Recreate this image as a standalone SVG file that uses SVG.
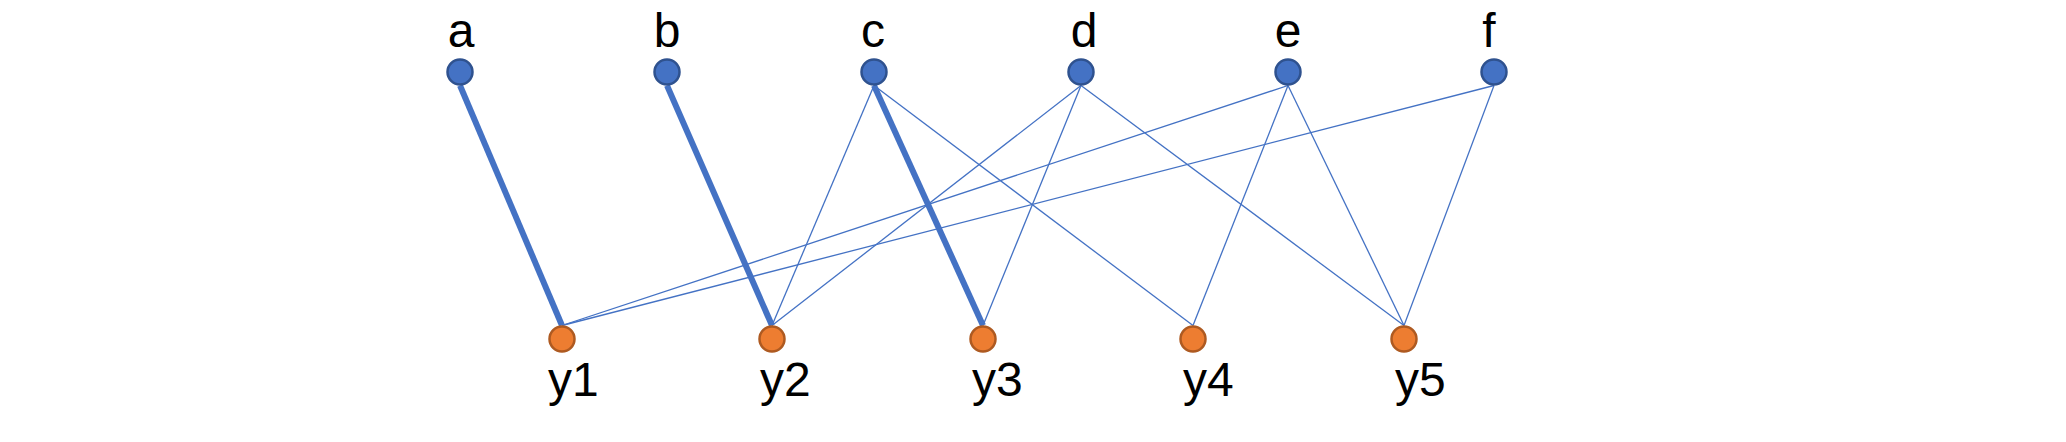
<svg xmlns="http://www.w3.org/2000/svg" width="2066" height="442" viewBox="0 0 2066 442">
<style>
.top{fill:#4472C4;stroke:#2F528F;stroke-width:2.5}
.bot{fill:#ED7D31;stroke:#AE5A21;stroke-width:2.5}
.lbl{font-family:"Liberation Sans",Arial,sans-serif;font-size:48px;fill:#000}
.thin{stroke:#4472C4;stroke-width:1.3;fill:none}
.thick{stroke:#4472C4;stroke-width:6;fill:none}
</style>
<rect width="2066" height="442" fill="#fff"/>
<g id="edges">
<line class="thin" x1="874" y1="85.5" x2="772" y2="325.5"/>
<line class="thin" x1="874" y1="85.5" x2="1193" y2="325.5"/>
<line class="thin" x1="1081" y1="85.5" x2="772" y2="325.5"/>
<line class="thin" x1="1081" y1="85.5" x2="983" y2="325.5"/>
<line class="thin" x1="1081" y1="85.5" x2="1404" y2="325.5"/>
<line class="thin" x1="1288" y1="85.5" x2="562" y2="325.5"/>
<line class="thin" x1="1288" y1="85.5" x2="1193" y2="325.5"/>
<line class="thin" x1="1288" y1="85.5" x2="1404" y2="325.5"/>
<line class="thin" x1="1494" y1="85.5" x2="562" y2="325.5"/>
<line class="thin" x1="1494" y1="85.5" x2="1404" y2="325.5"/>
<line class="thick" x1="460" y1="85.5" x2="562" y2="325.5"/>
<line class="thick" x1="667" y1="85.5" x2="772" y2="325.5"/>
<line class="thick" x1="874" y1="85.5" x2="983" y2="325.5"/>
</g>
<g id="node-a"><circle class="top" cx="460" cy="72" r="12.5"/><text class="lbl" x="461" y="47" text-anchor="middle">a</text></g>
<g id="node-b"><circle class="top" cx="667" cy="72" r="12.5"/><text class="lbl" x="667" y="47" text-anchor="middle">b</text></g>
<g id="node-c"><circle class="top" cx="874" cy="72" r="12.5"/><text class="lbl" x="873" y="47" text-anchor="middle">c</text></g>
<g id="node-d"><circle class="top" cx="1081" cy="72" r="12.5"/><text class="lbl" x="1084" y="47" text-anchor="middle">d</text></g>
<g id="node-e"><circle class="top" cx="1288" cy="72" r="12.5"/><text class="lbl" x="1288" y="47" text-anchor="middle">e</text></g>
<g id="node-f"><circle class="top" cx="1494" cy="72" r="12.5"/><text class="lbl" x="1489" y="47" text-anchor="middle">f</text></g>
<g id="node-y1"><circle class="bot" cx="562" cy="339" r="12.5"/><text class="lbl" x="548" y="396">y1</text></g>
<g id="node-y2"><circle class="bot" cx="772" cy="339" r="12.5"/><text class="lbl" x="760" y="396">y2</text></g>
<g id="node-y3"><circle class="bot" cx="983" cy="339" r="12.5"/><text class="lbl" x="972" y="396">y3</text></g>
<g id="node-y4"><circle class="bot" cx="1193" cy="339" r="12.5"/><text class="lbl" x="1183" y="396">y4</text></g>
<g id="node-y5"><circle class="bot" cx="1404" cy="339" r="12.5"/><text class="lbl" x="1395" y="396">y5</text></g>
</svg>
